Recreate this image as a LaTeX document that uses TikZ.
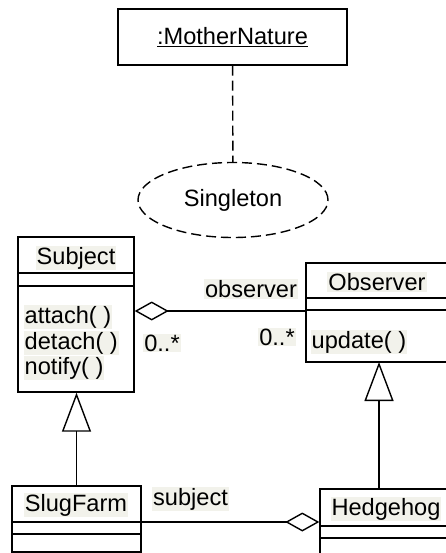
\documentclass[tikz,border=0pt]{standalone}
\usepackage{fontspec}
\setmainfont{Liberation Sans}
\usetikzlibrary{arrows.meta,shapes.geometric}
\definecolor{labelbg}{RGB}{242,242,235}
\tikzset{
  classbox/.style={draw, rectangle, inner sep=0pt},
  lbl/.style={fill=labelbg, inner sep=1pt},
  inherit/.style={-{Triangle[open,length=39pt,width=29pt]}},
  aggr/.style={-{Diamond[open,length=34pt,width=19pt]}},
  dashes/.style={dash pattern=on 10pt off 5pt},
}

\begin{document}
\begin{tikzpicture}[x=1pt,y=-1pt,line width=1.4pt,font=\fontsize{23.6}{27}\selectfont]
          \useasboundingbox (0,0) rectangle (446,553);
          \clip (0,0) rectangle (446,553);
          \node[classbox, minimum width=229pt, minimum height=56pt] (nature) at (232.5,37) {\underline{:MotherNature}};
          \node[draw, ellipse, dashes, minimum width=190pt, minimum height=75pt] (singleton) at (233,200) {Singleton};
          \draw[dashes] (nature) -- (singleton);
          %
          \node[classbox, minimum width=116pt, minimum height=155pt] (subject) at (76,314.5) {};
          \node[classbox, minimum width=174pt, minimum height=99pt] (observer) at (393,312.5) {};
          \node[classbox, minimum width=129pt, minimum height=66pt] (slugfarm) at (76.5,519) {};
          \node[classbox, minimum width=160pt, minimum height=81pt] (hedgehog) at (400,529.5) {};
          \draw (subject.west |- 0,273) -- (subject.east |- 0,273);
          \draw (subject.west |- 0,286) -- (subject.east |- 0,286);
          \draw (observer.west |- 0,298) -- (observer.east |- 0,298);
          \draw (observer.west |- 0,310) -- (observer.east |- 0,310);
          \draw (slugfarm.west |- 0,522) -- (slugfarm.east |- 0,522);
          \draw (slugfarm.west |- 0,534) -- (slugfarm.east |- 0,534);
          \draw (hedgehog.west |- 0,526) -- (hedgehog.east |- 0,526);
          \draw (hedgehog.west |- 0,538) -- (hedgehog.east |- 0,538);
          %
          \node[lbl] (subjname) at (76,258) {Subject};
          \node[lbl, anchor=west] (attach) at (23,317) {attach( )};
          \node[lbl, anchor=west] (detach) at (23,343) {detach( )};
          \node[lbl, anchor=west] (notify) at (23,368) {notify( )};
          \node[lbl] (obsname) at (377,282) {Observer};
          \node[lbl, anchor=west] (update) at (310,342) {update( )};
          \node[lbl] (slugname) at (76,505) {SlugFarm};
          \node[lbl] (hedgename) at (386,509) {Hedgehog};
          %
          \coordinate (obsfoot) at (379,362);
          \draw[inherit] (slugfarm.north) -- (slugfarm.north |- subject.south);
          \draw[inherit] (hedgehog.north -| obsfoot) -- (obsfoot);
          \draw[aggr] (observer.west |- 0,311) -- (subject.east |- 0,311);
          \draw[aggr] (slugfarm.east |- 0,522) -- (hedgehog.west |- 0,522);
          %
          \node[lbl] (obsrole) at (251,289) {observer};
          \node[lbl] (manyleft) at (162,343) {0..*};
          \node[lbl] (manyright) at (277,337) {0..*};
          \node[lbl] (subjrole) at (190.5,499) {subject};
        \end{tikzpicture}
\end{document}
